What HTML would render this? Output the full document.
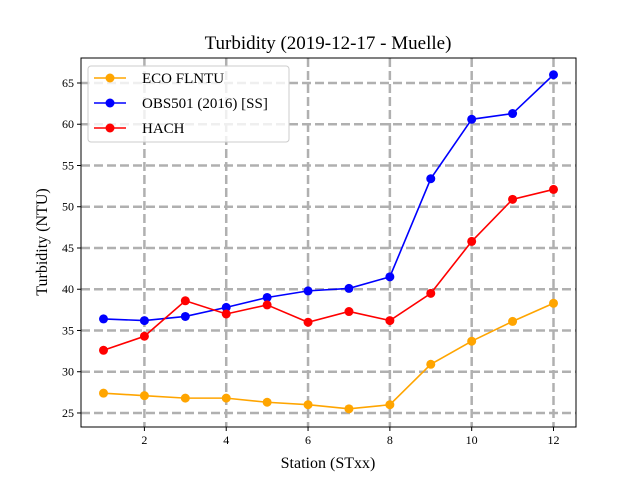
<!DOCTYPE html>
<html><head><meta charset="utf-8"><style>
body{margin:0;background:#fff}
svg{display:block}
text{font-family:"Liberation Serif","DejaVu Serif",serif}
</style></head><body>
<svg id="chart" width="640" height="480">
<rect width="640" height="480" fill="#fff"/>
<text x="328" y="49" font-size="19" text-anchor="middle">Turbidity (2019-12-17 - Muelle)</text>
<g id="grid"></g><g id="ticks"></g><g id="series"></g>
<rect x="81" y="58" width="495" height="369" fill="none" stroke="#000" stroke-width="1"/>
<text x="328" y="468" font-size="16" text-anchor="middle">Station (STxx)</text>
<text transform="translate(47,242) rotate(-90)" font-size="16" text-anchor="middle">Turbidity (NTU)</text>
<g id="legend">
<rect x="88" y="66" width="201" height="76" rx="3" fill="#fff" fill-opacity="0.8" stroke="#ccc"/>
</g>
</svg>
<script>
const stations=[1,2,3,4,5,6,7,8,9,10,11,12];
const ecoValues=[27.4,27.1,26.8,26.8,26.3,26.0,25.5,26.0,30.9,33.7,36.1,38.3];
const obsValues=[36.4,36.2,36.7,37.8,39.0,39.8,40.1,41.5,53.4,60.6,61.3,66.0];
const hachValues=[32.6,34.3,38.6,37.0,38.1,36.0,37.3,36.2,39.5,45.8,50.9,52.1];
const xTicks=[2,4,6,8,10,12];
const yTicks=[25,30,35,40,45,50,55,60,65];
const seriesNames=["ECO FLNTU","OBS501 (2016) [SS]","HACH"];
const NS="http://www.w3.org/2000/svg";
const X0=81,X1=576,Y0=427,Y1=58,xmin=0.45,xmax=12.55,ymin=23.3,ymax=68.03;
const sx=v=>X0+(v-xmin)/(xmax-xmin)*(X1-X0);
const sy=v=>Y0-(v-ymin)/(ymax-ymin)*(Y0-Y1);
function mk(t,a,p){const e=document.createElementNS(NS,t);for(const k in a)e.setAttribute(k,a[k]);p.appendChild(e);return e;}
const grid=document.getElementById('grid'),ticks=document.getElementById('ticks');
xTicks.forEach(v=>{
 const g=mk('line',{x1:sx(v),x2:sx(v),y1:Y1,y2:Y0,stroke:'#b0b0b0','stroke-width':2.5,'stroke-dasharray':'9,4'},grid);
 
 
 mk('line',{x1:sx(v),x2:sx(v),y1:Y0,y2:Y0+4,stroke:'#000'},ticks);
 const t=mk('text',{x:sx(v),y:Y0+17,'font-size':12,'text-anchor':'middle'},ticks);t.textContent=v;
 
 
});
yTicks.forEach(v=>{
 const g=mk('line',{x1:X0,x2:X1,y1:sy(v),y2:sy(v),stroke:'#b0b0b0','stroke-width':2.5,'stroke-dasharray':'9,4'},grid);
 
 
 mk('line',{x1:X0-4,x2:X0,y1:sy(v),y2:sy(v),stroke:'#000'},ticks);
 const t=mk('text',{x:X0-7,y:sy(v)+4,'font-size':12,'text-anchor':'end'},ticks);t.textContent=v;
 
 
});
const all=[ecoValues,obsValues,hachValues],cols=['orange','#0000ff','#ff0000'],ids=['eco-flntu','obs501','hach'];
const ser=document.getElementById('series');
all.forEach((vals,i)=>{
 const g=mk('g',{},ser);
 
 
 mk('polyline',{points:stations.map((s,j)=>sx(s)+','+sy(vals[j])).join(' '),fill:'none',stroke:cols[i],'stroke-width':1.6},g);
 stations.forEach((s,j)=>{
  const c=mk('circle',{cx:sx(s),cy:sy(vals[j]),r:4.5,fill:cols[i]},g);
  
  
 });
});
const leg=document.getElementById('legend');
seriesNames.forEach((n,i)=>{
 const y=78+i*25;
 const g=mk('g',{},leg);
 
 
 mk('line',{x1:94,x2:126,y1:y,y2:y,stroke:cols[i],'stroke-width':1.6},g);
 mk('circle',{cx:110,cy:y,r:4.5,fill:cols[i]},g);
 const t=mk('text',{x:142,y:y+5,'font-size':15},g);t.textContent=n;
});
</script>
</body></html>
